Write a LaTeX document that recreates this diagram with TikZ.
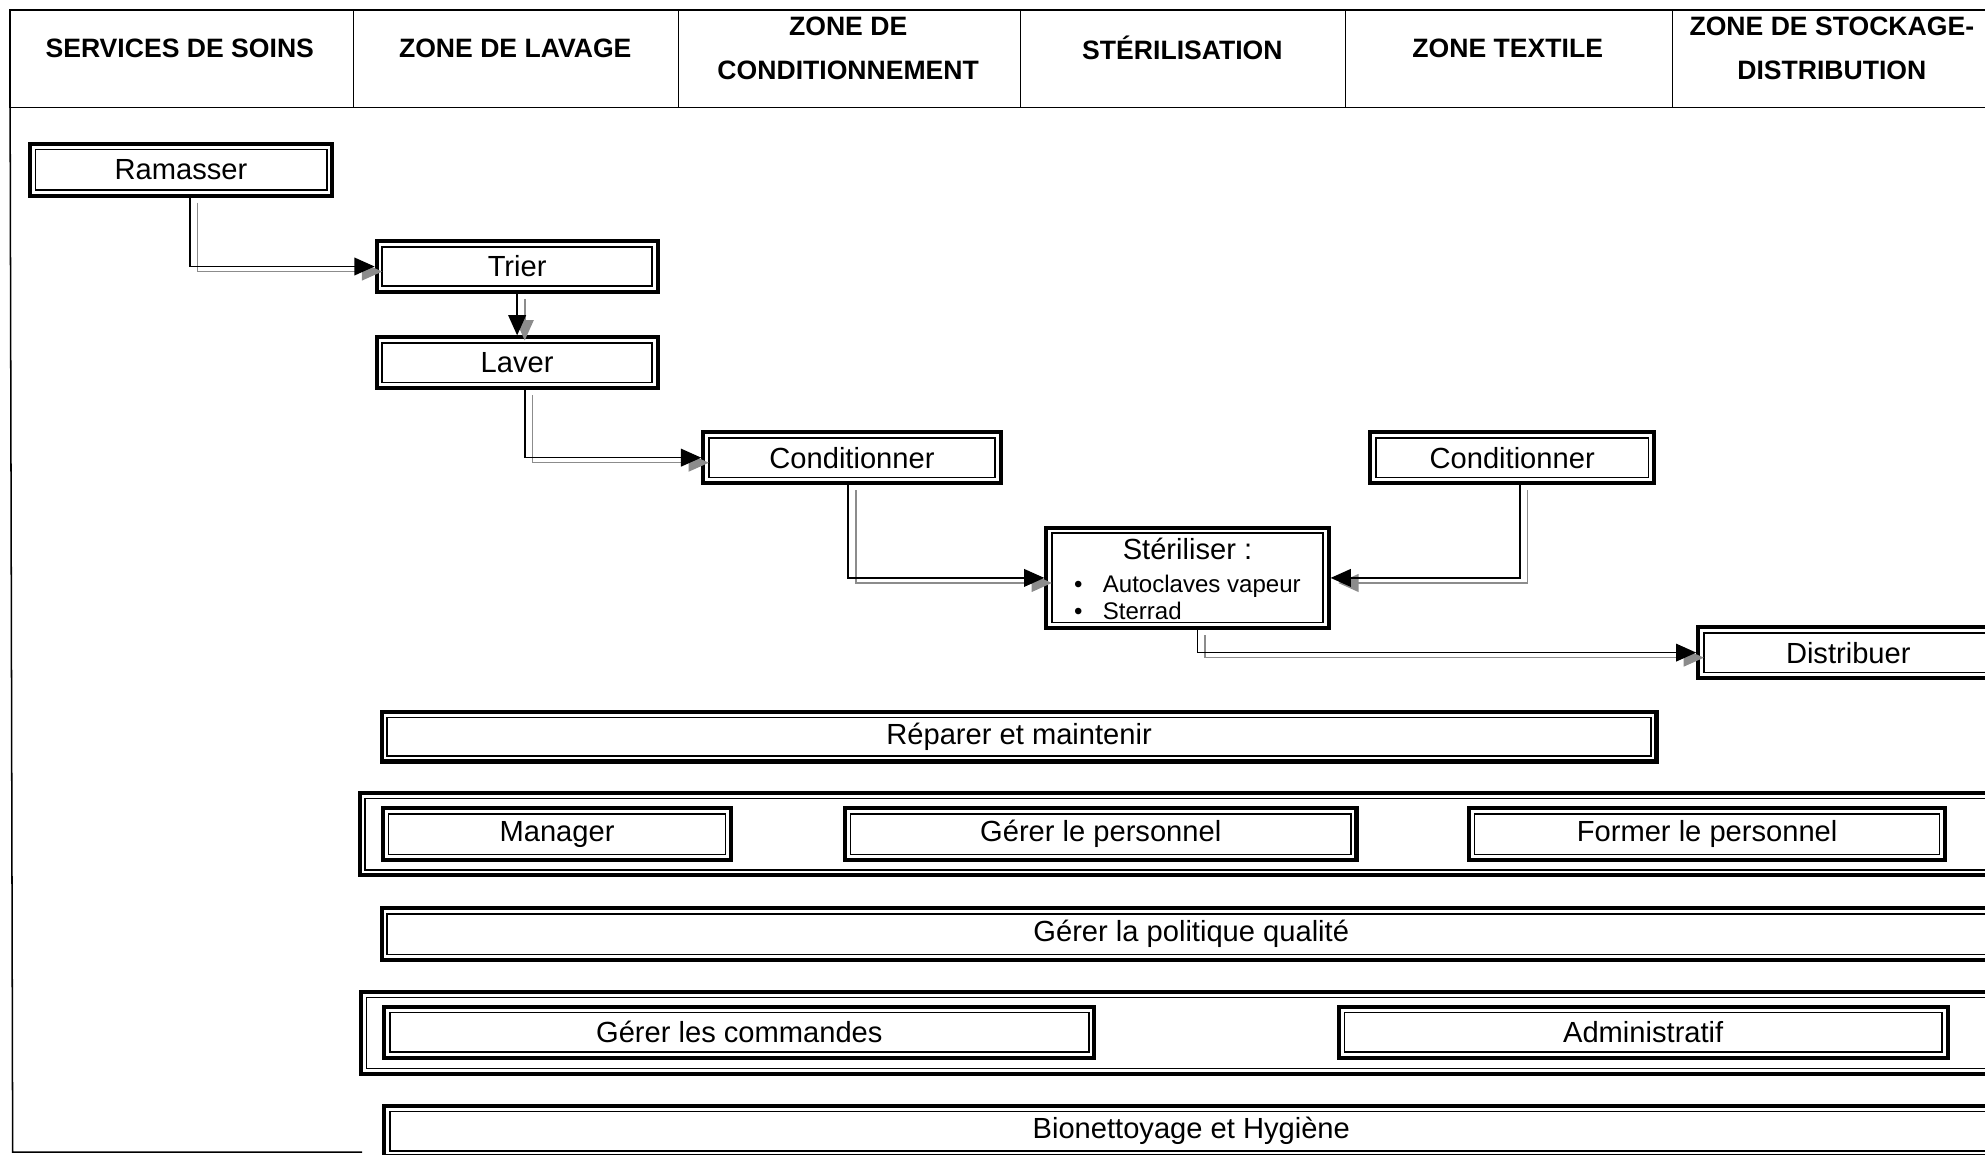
\documentclass[tikz,border=0pt]{standalone}
\usepackage{fontspec}
\setmainfont{Liberation Sans}
\usetikzlibrary{arrows.meta}

\tikzset{
    box/.style={draw=black, line width=1.6pt, fill=white, inner sep=0pt,
        font=\fontsize{11.5}{13}\selectfont,
        path picture={\draw[line width=0.6pt]
            ([shift={(2.2pt,-2.2pt)}]path picture bounding box.north west) rectangle
            ([shift={(-2.2pt,2.2pt)}]path picture bounding box.south east);}},
    flow/.style={draw=black, line width=0.6pt, -{Triangle[length=8pt,width=7pt]},
        preaction={draw=black!45, line width=0.6pt, -{Triangle[length=8pt,width=7pt]},
            transform canvas={shift={(3pt,-2pt)}}}},
    zone/.style={font=\fontsize{10.5}{17.5}\selectfont\bfseries, align=center}
}

\begin{document}
\begin{tikzpicture}[x=0.5pt, y=-0.5pt]
    \useasboundingbox (0,0) rectangle (1568,912);
    \clip (0,0) rectangle (1568,912);

    % zones
    \draw[line width=0.6pt] (1590,8) -- (8,8) -- (8,85) -- (1590,85);
    \foreach \x in {279,536,806,1063,1321}
        \draw[line width=0.5pt] (\x,8) -- (\x,85);
    \draw[line width=0.6pt] (8,85) -- (10,910) -- (286,910);

    \node[zone] (soins) at (142,38) {SERVICES DE SOINS};
    \node[zone] (lavage) at (407,38) {ZONE DE LAVAGE};
    \node[zone] (condit) at (670,38) {ZONE DE\\CONDITIONNEMENT};
    \node[zone] (steril) at (934,38) {STÉRILISATION};
    \node[zone] (textile) at (1191,38) {ZONE TEXTILE};
    \node[zone] (stock) at (1447,38) {ZONE DE STOCKAGE-\\DISTRIBUTION};

    % processus
    \node[box, minimum width=119.5pt, minimum height=20.5pt] (ram) at (143,134) {Ramasser};
    \node[box, minimum width=111pt, minimum height=20pt] (tri) at (408.5,210.5) {Trier};
    \node[box, minimum width=111pt, minimum height=20pt] (lav) at (408.5,286.5) {Laver};
    \node[box, minimum width=117.5pt, minimum height=20pt] (con1) at (673,361.5) {Conditionner};
    \node[box, minimum width=112pt, minimum height=20pt] (con2) at (1194.5,361.5) {Conditionner};
    \node[box, minimum width=111.5pt, minimum height=39pt, font=\fontsize{9.5}{11}\selectfont] (ste) at (938,456.5) {%
        \begin{tabular}{@{}l@{\hspace{8pt}}l@{}}
            \multicolumn{2}{c}{\rule{0pt}{12.5pt}\fontsize{11.5}{13}\selectfont Stériliser :}\\[2pt]
            \textbullet & Autoclaves vapeur\\
            \textbullet & Sterrad
        \end{tabular}};
    \node[box, minimum width=118.5pt, minimum height=20pt] (dis) at (1460,515.5) {Distribuer};

    % support
    \node[box, minimum width=503.5pt, minimum height=19.5pt] (rep) at (805,582) {Réparer et maintenir};
    \node[box, minimum width=652pt, minimum height=32.5pt] (grp1) at (936,659) {};
    \node[box, minimum width=137.5pt, minimum height=20.5pt] (man) at (440,659) {Manager};
    \node[box, minimum width=202pt, minimum height=20.5pt] (gpe) at (869.5,659) {Gérer le personnel};
    \node[box, minimum width=188pt, minimum height=20.5pt] (fpe) at (1348.5,659) {Former le personnel};
    \node[box, minimum width=639.5pt, minimum height=20.5pt] (pol) at (941,738) {Gérer la politique qualité};
    \node[box, minimum width=652pt, minimum height=32.5pt] (grp2) at (937,816) {};
    \node[box, minimum width=280.5pt, minimum height=20pt] (com) at (584,815.5) {Gérer les commandes};
    \node[box, minimum width=240.5pt, minimum height=20pt] (adm) at (1298,815.5) {Administratif};
    \node[box, minimum width=637.5pt, minimum height=20pt] (bio) at (941,893.5) {Bionettoyage et Hygiène};

    % flux
    \draw[flow] ([xshift=3.5pt]ram.south) |- (tri.west);
    \draw[flow] (tri) -- (lav);
    \draw[flow] ([xshift=3pt]lav.south) |- (con1.west);
    \draw[flow] ([xshift=-1.5pt]con1.south) |- (ste.west);
    \draw[flow] ([xshift=3pt]con2.south) |- (ste.east);
    \draw[flow] ([xshift=4pt]ste.south) |- (dis.west);
\end{tikzpicture}
\end{document}
